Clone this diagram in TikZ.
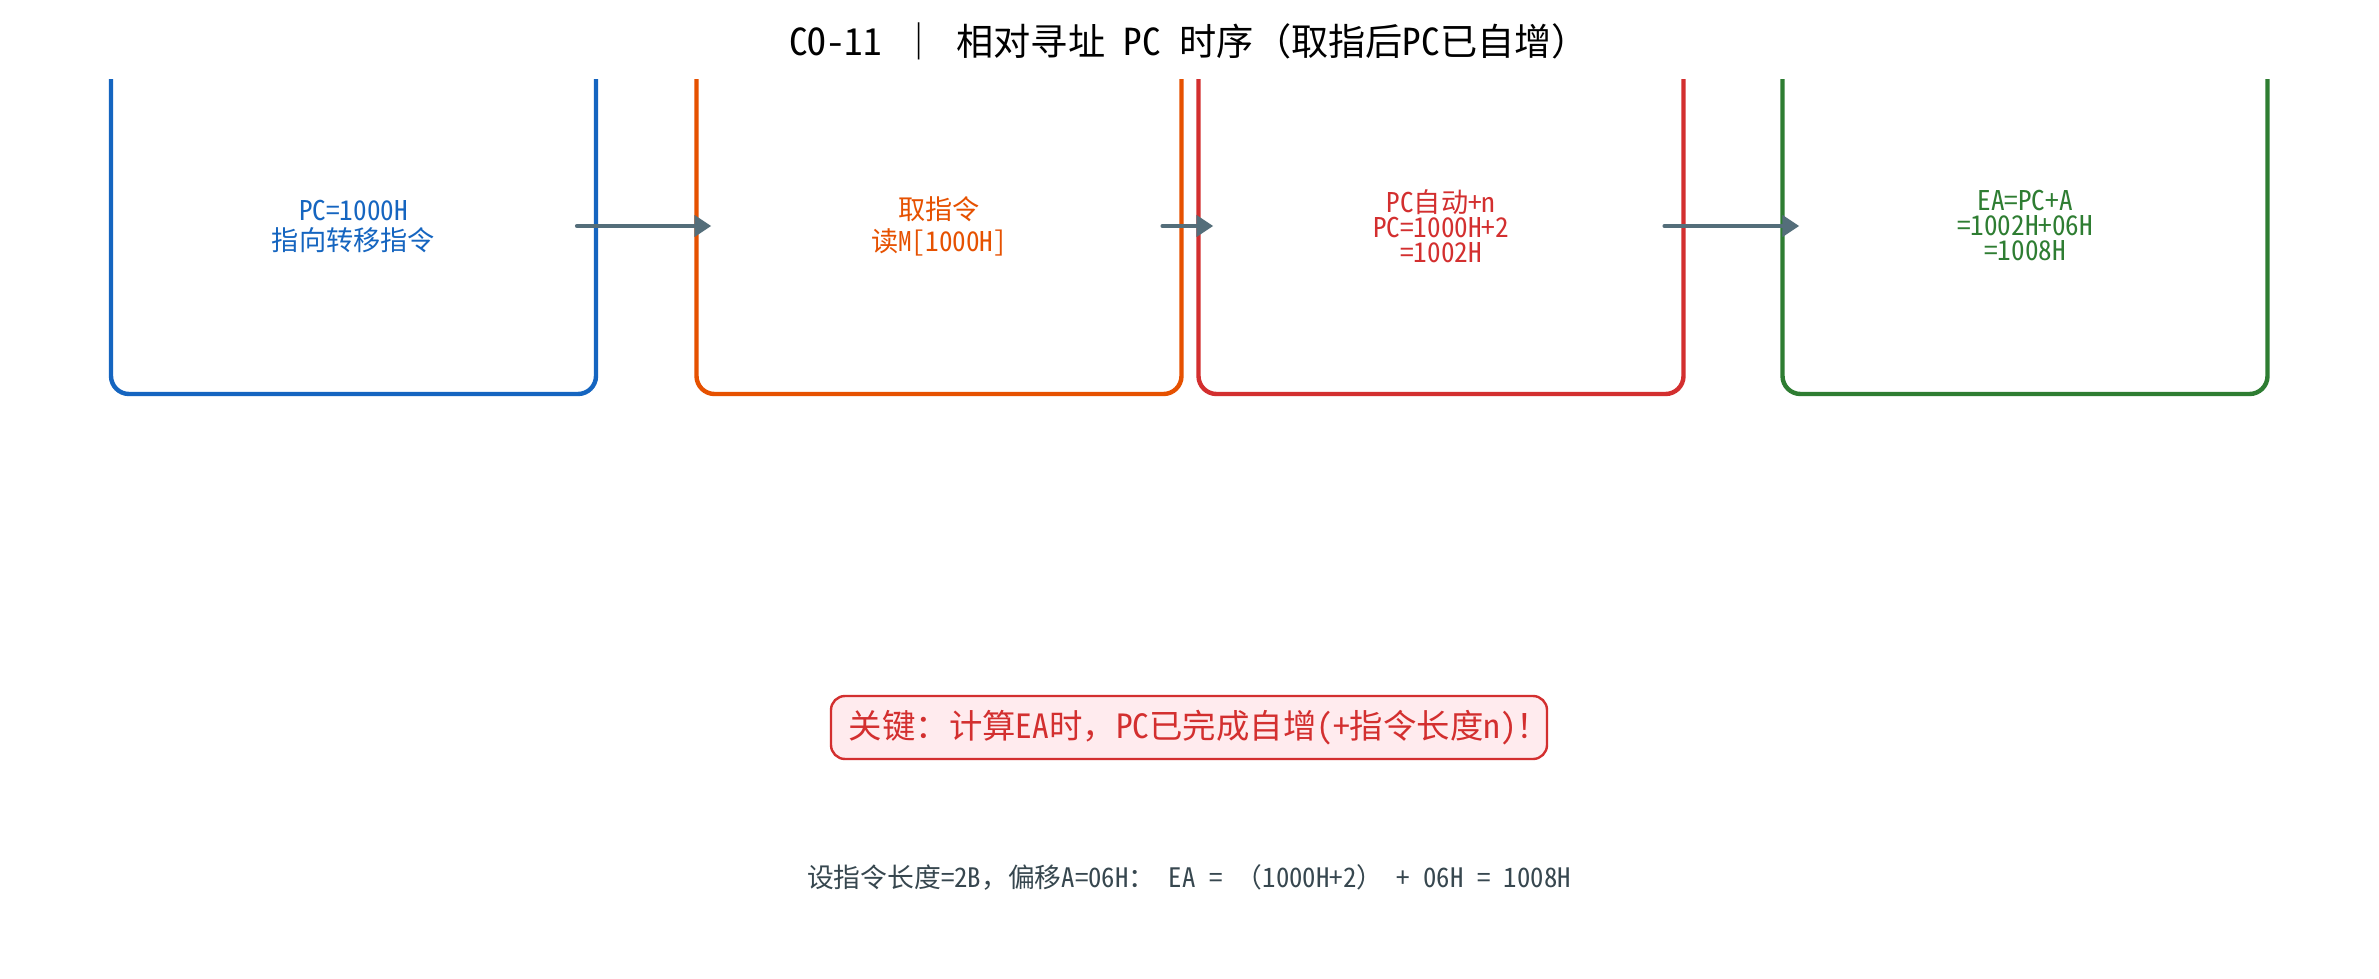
\documentclass[tikz,border=0pt]{standalone}
\usepackage{fontspec}
\newfontfamily\cjk{Noto Sans Mono CJK SC}
\usetikzlibrary{arrows.meta,calc}
\definecolor{cblue}{HTML}{1565C0}
\definecolor{corange}{HTML}{E65100}
\definecolor{cred}{HTML}{D32F2F}
\definecolor{cgreen}{HTML}{2E7D32}
\definecolor{carrow}{HTML}{546E7A}
\definecolor{cpink}{HTML}{FFEBEE}
\definecolor{cslate}{HTML}{37474F}
\tikzset{
  stagebox/.style={draw, line width=2.2pt, rounded corners=9pt, minimum width=242.5pt, minimum height=168pt, align=center, inner sep=0pt, font=\cjk\fontsize{13.6}{12.5}\selectfont},
  flowarrow/.style={draw=carrow, line width=2.3pt, line cap=round, -{Triangle[length=8.5pt,width=10.5pt]}},
}
\begin{document}
\begin{tikzpicture}[x=0.5pt,y=-0.5pt]
\useasboundingbox[fill=white] (0,0) rectangle (2379,979);
\node[font=\cjk\fontsize{18.6}{20}\selectfont] (title) at (1189,41) {CO-11 ｜ 相对寻址 PC 时序（取指后PC已自增）};
\begin{scope}
\clip (0,80) rectangle (2379,979);
\node[stagebox, draw=cblue, text=cblue] (b1) at (353.5,226) {PC=1000H\\[2.5pt]指向转移指令};
\node[stagebox, draw=corange, text=corange] (b2) at (939,226) {取指令\\[2.5pt]读M[1000H]};
\node[stagebox, draw=cred, text=cred] (b3) at (1441,226) {PC自动+n\\PC=1000H+2\\=1002H};
\node[stagebox, draw=cgreen, text=cgreen] (b4) at (2025,226) {EA=PC+A\\=1002H+06H\\=1008H};
\end{scope}
\draw[flowarrow] ([xshift=-10.5pt]b1.east) -- ([xshift=8.5pt]b2.west);
\draw[flowarrow] ([xshift=-10.5pt]b2.east) -- ([xshift=8.5pt]b3.west);
\draw[flowarrow] ([xshift=-10.5pt]b3.east) -- ([xshift=9.5pt]b4.west);
\node[draw=cred, fill=cpink, text=cred, line width=1.2pt, rounded corners=7pt, minimum width=358pt, minimum height=31.5pt, inner sep=0pt, font=\cjk\fontsize{16.7}{18}\selectfont] (key) at (1189,727.5) {\hspace*{5.3pt}关键：计算EA时，PC已完成自增(+指令长度n)！\hspace*{-5.3pt}};
\node[text=cslate, font=\cjk\fontsize{13.4}{14}\selectfont] (note) at (1189,877) {设指令长度=2B，偏移A=06H： EA = （1000H+2） + 06H = 1008H};
\end{tikzpicture}
\end{document}
